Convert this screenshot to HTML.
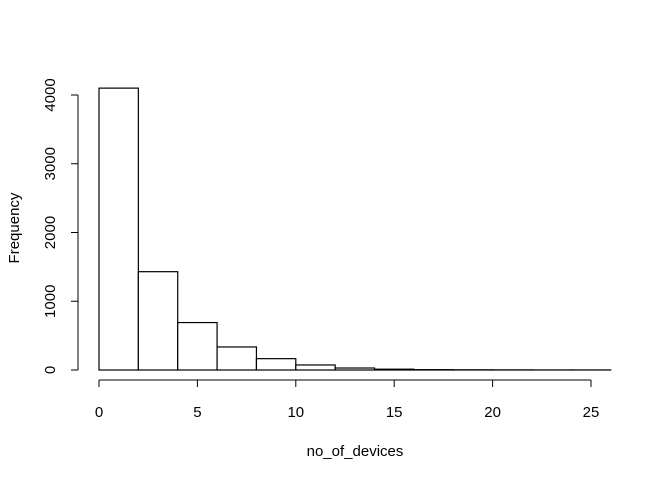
<!DOCTYPE html>
<html><head><meta charset="utf-8"><style>body{margin:0;background:#fff}svg{display:block}text{font-family:"Liberation Sans",Arial,sans-serif;font-size:15px;fill:#000}</style></head>
<body>
<svg id="chart" width="672" height="480" viewBox="0 0 672 480"></svg>
<script>
const binEdges=[0,2,4,6,8,10,12,14,16,18,20,22,24,26];
const counts=[4100,1430,690,335,165,73,29,12,5,3,2,1,1];
const xTicks=[0,5,10,15,20,25];
const yTicks=[0,1000,2000,3000,4000];
const NS="http://www.w3.org/2000/svg";
const svg=document.getElementById('chart');
const x=v=>99+v*19.68;
const y=v=>370-v*0.06875;
function mk(t,a,p){const e=document.createElementNS(NS,t);for(const k in a)e.setAttribute(k,a[k]);(p||svg).appendChild(e);return e;}
const bars=mk('g',{});


counts.forEach((c,i)=>{const r=mk('rect',{x:x(binEdges[i]),y:y(c),width:x(binEdges[i+1])-x(binEdges[i]),height:370-y(c),fill:'#fff',stroke:'#000','stroke-width':1.2},bars);

});
const xa=mk('g',{});


mk('line',{x1:x(0),x2:x(25),y1:380,y2:380,stroke:'#000'},xa);
xTicks.forEach(t=>{mk('line',{x1:x(t),x2:x(t),y1:380,y2:387,stroke:'#000'},xa);const tx=mk('text',{x:x(t),y:417,'text-anchor':'middle'},xa);tx.textContent=t;

});
const ya=mk('g',{});


mk('line',{x1:78,x2:78,y1:y(0),y2:y(4000),stroke:'#000'},ya);
yTicks.forEach(t=>{mk('line',{x1:71,x2:78,y1:y(t),y2:y(t),stroke:'#000'},ya);const tx=mk('text',{x:55,y:y(t),'text-anchor':'middle',transform:`rotate(-90 55 ${y(t)})`},ya);tx.textContent=t;

});
const xt=mk('text',{x:355,y:456,'text-anchor':'middle'});xt.textContent='no_of_devices';


const yt=mk('text',{x:19,y:228,'text-anchor':'middle',transform:'rotate(-90 19 228)'});yt.textContent='Frequency';


</script>
</body></html>
